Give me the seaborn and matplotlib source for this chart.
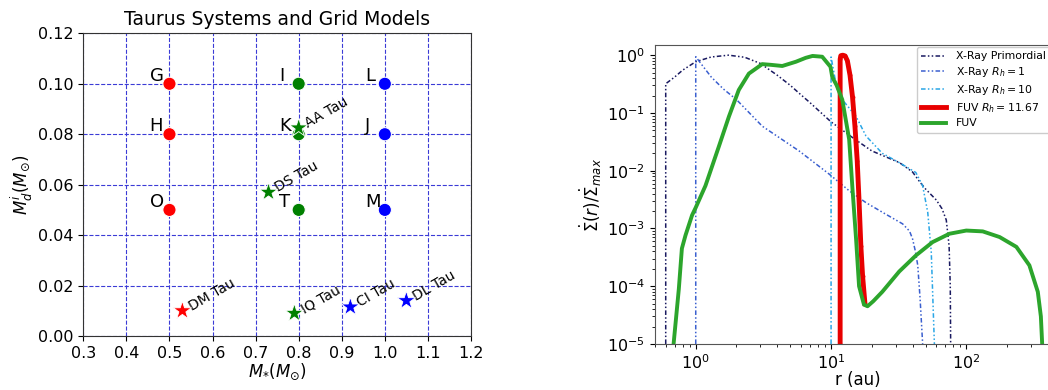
import numpy as np
import pandas as pd
import matplotlib
matplotlib.use("Agg")
import matplotlib.pyplot as plt
import seaborn as sns

# grid models (left panel)
grid_names = ["G", "H", "O", "I", "K", "T", "L", "J", "M"]
grid_mstar = [0.5, 0.5, 0.5, 0.8, 0.8, 0.8, 1.0, 1.0, 1.0]
grid_mdisk = [0.10, 0.08, 0.05, 0.10, 0.08, 0.05, 0.10, 0.08, 0.05]
grid_group = ["a", "a", "a", "b", "b", "b", "c", "c", "c"]

# Taurus systems
sys_names = ["DM Tau", "IQ Tau", "CI Tau", "DL Tau", "DS Tau", "AA Tau"]
sys_mstar = [0.53, 0.79, 0.92, 1.05, 0.73, 0.80]
sys_mdisk = [0.010, 0.009, 0.0115, 0.014, 0.057, 0.0825]
sys_group = ["a", "b", "c", "c", "b", "b"]

group_colors = {"a": "red", "b": "green", "c": "blue"}

# photoevaporation profiles (right panel)
r_prim = [0.6, 0.6, 0.7, 0.8, 1.0, 1.3, 1.75, 2.3, 3.0, 4.0, 5.0, 5.8, 7.0, 10.0,
          15.0, 20.0, 32.0, 40.0, 45.0, 50.0, 60.0, 66.0, 71.0, 74.5, 76.0, 76.5]
s_prim = [1e-5, 0.32, 0.42, 0.55, 0.77, 0.93, 1.0, 0.92, 0.72, 0.45, 0.3, 0.22, 0.15, 0.07,
          0.035, 0.022, 0.0138, 0.0095, 0.0065, 0.0048, 0.0031, 0.0022, 0.0014, 5e-4, 1e-4, 1e-5]

r_rh1 = [1.0, 1.0, 1.1, 1.3, 1.6, 2.0, 3.1, 5.8, 9.7, 13.6, 18.1, 25.0, 33.8, 38.0,
         40.0, 42.0, 43.7, 45.5, 47.5]
s_rh1 = [1e-5, 0.94, 0.7, 0.42, 0.26, 0.17, 0.059, 0.022, 0.0087, 0.0045, 0.0028, 0.0018,
         0.0012, 9e-4, 6.6e-4, 4e-4, 2.3e-4, 6e-5, 1e-5]

r_rh10 = [10.0, 10.0, 10.5, 11.0, 12.1, 15.3, 18.1, 23.9, 31.9, 42.3, 47.5, 51.8, 55.0, 58.0]
s_rh10 = [1e-5, 0.93, 0.5, 0.27, 0.17, 0.087, 0.04, 0.02, 0.0138, 0.0093, 0.0055, 0.0019,
          3.9e-4, 1e-5]

r_fuv_rh = [11.67, 11.67, 11.8, 12.2, 12.7, 13.2, 13.8, 14.4, 15.0, 15.6, 16.1, 16.6,
            17.1, 17.8]
s_fuv_rh = [1e-5, 0.85, 0.98, 1.0, 0.97, 0.8, 0.45, 0.19, 0.06, 0.015, 0.003, 5e-4,
            1.5e-4, 5e-5]

r_fuv = [0.686, 0.75, 0.79, 0.84, 0.94, 1.0, 1.18, 1.48, 1.76, 2.08, 2.47, 3.1, 3.6, 4.36,
         5.5, 6.5, 7.3, 8.6, 9.9, 10.2, 11.0, 12.1, 13.6, 14.4, 15.3, 16.1, 17.5, 18.6,
         20.5, 23.9, 31.9, 42.3, 56.2, 74.9, 99.8, 132.0, 176.0, 234.0, 292.0, 337.0,
         355.0, 363.0]
s_fuv = [1e-5, 9e-5, 4.5e-4, 7.6e-4, 1.7e-3, 2.3e-3, 5.5e-3, 0.026, 0.087, 0.25, 0.48, 0.7,
         0.68, 0.65, 0.77, 0.9, 0.97, 0.94, 0.63, 0.42, 0.3, 0.17, 0.035, 4.8e-3, 6.6e-4,
         1e-4, 4.8e-5, 4.5e-5, 5.5e-5, 8e-5, 1.8e-4, 3.4e-4, 5.8e-4, 8.1e-4, 9.2e-4, 8.9e-4,
         7.1e-4, 4.8e-4, 2.3e-4, 8e-5, 3e-5, 1e-5]

fig = plt.figure(figsize=(10.48, 3.9), dpi=100)
ax1 = fig.add_axes([0.0795, 0.1385, 0.3699, 0.776])
ax2 = fig.add_axes([0.625, 0.118, 0.3874, 0.7666])

# ---- left panel
ax1.set_axisbelow(True)
ax1.grid(True, color="#3b3bd6", linestyle="--", linewidth=0.8)
grid_df = pd.DataFrame({"mstar": grid_mstar, "mdisk": grid_mdisk, "g": grid_group})
sys_df = pd.DataFrame({"mstar": sys_mstar, "mdisk": sys_mdisk, "g": sys_group})
sns.scatterplot(data=grid_df, x="mstar", y="mdisk", hue="g", palette=group_colors,
                s=90, marker="o", legend=False, ax=ax1, zorder=3)
sns.scatterplot(data=sys_df, x="mstar", y="mdisk", hue="g", palette=group_colors,
                s=190, marker="*", edgecolor="white", linewidth=0.6,
                legend=False, ax=ax1, zorder=4)
for n, x, y in zip(grid_names, grid_mstar, grid_mdisk):
    ax1.text(x - 0.046, y + 0.0012, n, fontsize=13, ha="left", va="baseline")
for n, x, y in zip(sys_names, sys_mstar, sys_mdisk):
    ax1.annotate(n, (x, y), xytext=(8, -2), textcoords="offset points", fontsize=10,
                 rotation=30, rotation_mode="anchor", ha="left", va="bottom")
ax1.set_xlim(0.3, 1.2)
ax1.set_ylim(0, 0.12)
ax1.set_xticks(np.arange(0.3, 1.21, 0.1))
ax1.set_yticks(np.arange(0, 0.121, 0.02))
ax1.tick_params(labelsize=11.5)
ax1.set_title("Taurus Systems and Grid Models", fontsize=13.5)
ax1.set_xlabel(r"$M_{*}(M_{\odot})$", fontsize=12, labelpad=1)
ax1.set_ylabel(r"$M_d^i(M_{\odot})$", fontsize=12, labelpad=2)
for sp in ax1.spines.values():
    sp.set_color("#333333")

# ---- right panel
dd = (0, (3, 1.5, 1, 1.5, 1, 1.5))
sns.lineplot(x=r_prim, y=s_prim, ax=ax2, color="#191960", lw=1.1, linestyle=dd,
             sort=False, estimator=None, label="X-Ray Primordial")
sns.lineplot(x=r_rh1, y=s_rh1, ax=ax2, color="#3a5fcf", lw=1.1, linestyle=dd,
             sort=False, estimator=None, label=r"X-Ray $R_h=1$")
sns.lineplot(x=r_rh10, y=s_rh10, ax=ax2, color="#2aa6e6", lw=1.1, linestyle=dd,
             sort=False, estimator=None, label=r"X-Ray $R_h=10$")
sns.lineplot(x=r_fuv_rh, y=s_fuv_rh, ax=ax2, color="#e80000", lw=3.5, marker=".",
             markersize=4, markeredgecolor="#e80000", sort=False, estimator=None,
             label=r"FUV $R_h=11.67$")
sns.lineplot(x=r_fuv, y=s_fuv, ax=ax2, color="#2ca52c", lw=2.8,
             sort=False, estimator=None, label="FUV")
ax2.set_xscale("log")
ax2.set_yscale("log")
ax2.set_xlim(0.5, 500)
ax2.set_ylim(1e-5, 1.5)
ax2.tick_params(labelsize=11.5)
ax2.set_xlabel("r (au)", fontsize=12, labelpad=-1)
ax2.set_ylabel(r"$\dot{\Sigma}(r)/\dot{\Sigma}_{max}$", fontsize=12, labelpad=2)
ax2.legend(loc="upper left", bbox_to_anchor=(0.645, 0.993), borderaxespad=0,
           fontsize=7.8, labelspacing=0.35, handlelength=2.3, handletextpad=0.9,
           framealpha=1)
for sp in ax2.spines.values():
    sp.set_color("#555555")

fig.savefig("out.png", dpi=100)
